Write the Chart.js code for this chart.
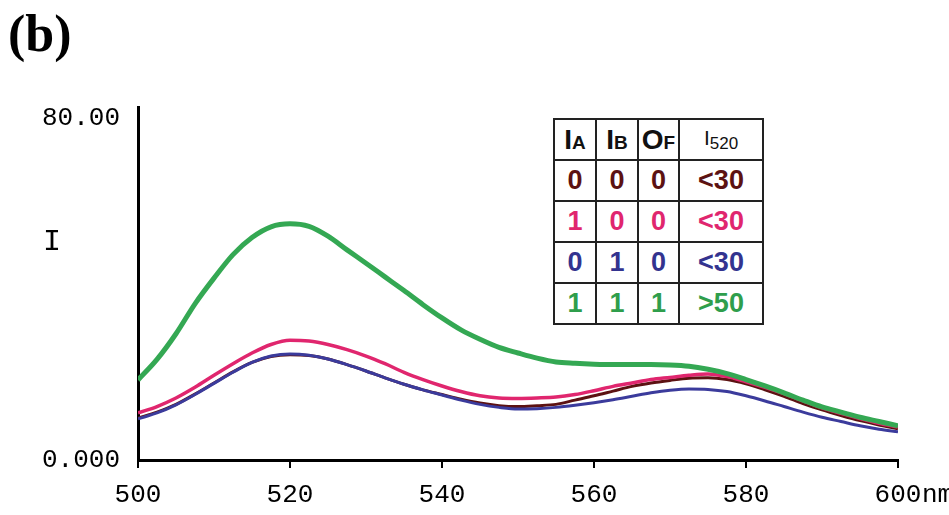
<!DOCTYPE html>
<html>
<head>
<meta charset="utf-8">
<script src="https://cdn.jsdelivr.net/npm/chart.js@4.4.1/dist/chart.umd.min.js"></script>
<style>
  html, body { margin: 0; padding: 0; background: #fff; }
  #wrap { position: relative; width: 949px; height: 515px; }
  #truth {
    position: absolute; left: 553px; top: 118px;
    border-collapse: collapse;
    font-family: "Liberation Sans", Arial, sans-serif; font-weight: bold;
    font-size: 27px; background: #fff;
  }
  #truth td, #truth th {
    border: 2px solid #222; height: 39px; padding: 0; text-align: center;
  }
  #truth th { color: #111; font-size: 28px; }
  #truth th small { font-size: 19px; }
  #truth th.thin { font-weight: normal; font-size: 21px; }
  #truth th.thin sub { font-size: 17px; vertical-align: -4px; }
</style>
</head>
<body>
<div id="wrap">
  <canvas id="chart" width="949" height="515"></canvas>
  <table id="truth"></table>
</div>
<script>
const wavelength = [500, 502.5, 505, 507.5, 510, 512.5, 515, 517.5, 520, 522.5, 525, 527.5, 530, 532.5, 535, 537.5, 540,
    542.5, 545, 547.5, 550, 552.5, 555, 557.5, 560, 562.5, 565, 567.5, 570, 572.5, 575, 577.5, 580,
    582.5, 585, 587.5, 590, 592.5, 595, 597.5, 600];

const green = [18.7, 23.5, 29.5, 36.5, 42.5, 48, 52, 54.5, 55.2, 54.6, 52.3, 49.1, 46, 42.8, 39.6, 36.3, 33.2,
    30.4, 28.2, 26.3, 25, 23.8, 22.9, 22.6, 22.4, 22.3, 22.3, 22.3, 22.2, 21.9, 21.2, 20.2, 18.8,
    17.3, 15.7, 14.0, 12.4, 11.2, 10.0, 9.0, 8.0];
const pink = [11, 12.5, 14.5, 17, 19.8, 22.5, 25, 27, 28, 27.8, 27, 25.8, 24.3, 22.5, 20.5, 18.8, 17.3,
    16, 15, 14.5, 14.4, 14.5, 14.7, 15.3, 16.2, 17.2, 18.0, 18.8, 19.3, 19.8, 20.1, 19.5, 18.3,
    17, 15.5, 13.8, 12.2, 10.9, 9.7, 8.6, 7.7];
const brown = [9.8, 11.2, 13, 15.4, 18, 20.6, 22.8, 24.2, 24.6, 24.4, 23.6, 22.3, 20.8, 19.2, 17.7, 16.4, 15.3,
    14.2, 13.3, 12.7, 12.5, 12.7, 13.0, 14.0, 15.0, 16.1, 17.2, 18.0, 18.6, 19.1, 19.2, 18.8, 17.8,
    16.4, 14.9, 13.2, 11.7, 10.4, 9.2, 8.2, 7.3];
const blue = [9.6, 11.0, 12.9, 15.3, 17.9, 20.5, 22.8, 24.3, 24.8, 24.5, 23.6, 22.3, 20.8, 19.2, 17.7, 16.4, 15.2,
    14.0, 13.0, 12.3, 11.9, 12.0, 12.3, 12.8, 13.4, 14.1, 14.9, 15.7, 16.3, 16.6, 16.5, 16.0, 15.0,
    13.8, 12.5, 11.2, 10.0, 9.0, 8.0, 7.2, 6.6];

const yTickValues = [0, 80];
const yTickLabels = ['0.000', '80.00'];

// truth table: inputs IA, IB, output OF, intensity at 520 nm
const tableHead = ['I|A', 'I|B', 'O|F', 'I|520'];
const tableRows = [
    ['0', '0', '0', '<30'],
    ['1', '0', '0', '<30'],
    ['0', '1', '0', '<30'],
    ['1', '1', '1', '>50']
];
const rowColors = ['#5c1212', '#e0266e', '#33338f', '#2f9e4c'];

const colors = { green: '#34a853', pink: '#e0266e', brown: '#5c1212', blue: '#3b3b9c' };

function toPoints(ys) {
    return wavelength.map((x, i) => ({ x, y: ys[i] }));
}

function buildTable() {
    const t = document.getElementById('truth');
    const widths = [40, 40, 39, 82];
    let html = '<tr>';
    tableHead.forEach((h, i) => {
        const [big, small] = h.split('|');
        if (i === 3) html += `<th class="thin" style="width:${widths[i]}px">${big}<sub>${small}</sub></th>`;
        else html += `<th style="width:${widths[i]}px">${big}<small>${small}</small></th>`;
    });
    html += '</tr>';
    tableRows.forEach((row, r) => {
        html += '<tr>' + row.map(v => `<td style="color:${rowColors[r]}">${v}</td>`).join('') + '</tr>';
    });
    t.innerHTML = html;
}
buildTable();

const textPlugin = {
    id: 'extraText',
    afterDraw(chart) {
        const { ctx, chartArea, scales } = chart;
        ctx.save();
        ctx.fillStyle = '#000';
        ctx.textBaseline = 'middle';
        ctx.font = 'bold 52px "Liberation Serif", serif';
        ctx.textAlign = 'left';
        ctx.fillText('(b)', 8, 38);
        ctx.font = '30px "Liberation Mono", monospace';
        ctx.textAlign = 'center';
        ctx.fillText('I', chartArea.left - 86, scales.y.getPixelForValue(51));
        ctx.font = '26px "Liberation Mono", monospace';
        ctx.textAlign = 'left';
        ctx.fillText('nm', scales.x.getPixelForValue(600) + 24, chartArea.bottom + 35);
        ctx.restore();
    }
};

const monoFont = { family: '"Liberation Mono", monospace', size: 26 };

new Chart(document.getElementById('chart').getContext('2d'), {
    type: 'line',
    data: {
        datasets: [
            { label: '0 0 0', data: toPoints(brown), borderColor: colors.brown, borderWidth: 3, order: 3 },
            { label: '0 1 0', data: toPoints(blue), borderColor: colors.blue, borderWidth: 3, order: 2 },
            { label: '1 0 0', data: toPoints(pink), borderColor: colors.pink, borderWidth: 3.5, order: 1 },
            { label: '1 1 1', data: toPoints(green), borderColor: colors.green, borderWidth: 5, order: 0 }
        ]
    },
    options: {
        responsive: false,
        animation: false,
        datasets: { line: { pointRadius: 0, cubicInterpolationMode: 'monotone', fill: false } },
        layout: { padding: { top: 107, right: 51, left: 0, bottom: 0 } },
        plugins: { legend: { display: false }, tooltip: { enabled: false } },
        scales: {
            x: {
                type: 'linear', min: 500, max: 600,
                afterFit: s => { s.height = 55; },
                border: { color: '#000', width: 3 },
                grid: { drawOnChartArea: false, color: '#000', lineWidth: 2, tickLength: 8 },
                ticks: { stepSize: 20, color: '#000', font: monoFont, padding: 12, maxRotation: 0 }
            },
            y: {
                min: 0, max: 82.5,
                afterFit: s => { s.width = 138; },
                afterBuildTicks: s => { s.ticks = yTickValues.map(v => ({ value: v })); },
                border: { color: '#000', width: 3 },
                grid: { display: false },
                ticks: {
                    color: '#000', font: monoFont, padding: 10,
                    callback: v => yTickLabels[yTickValues.indexOf(v)]
                }
            }
        }
    },
    plugins: [textPlugin]
});
</script>
</body>
</html>
